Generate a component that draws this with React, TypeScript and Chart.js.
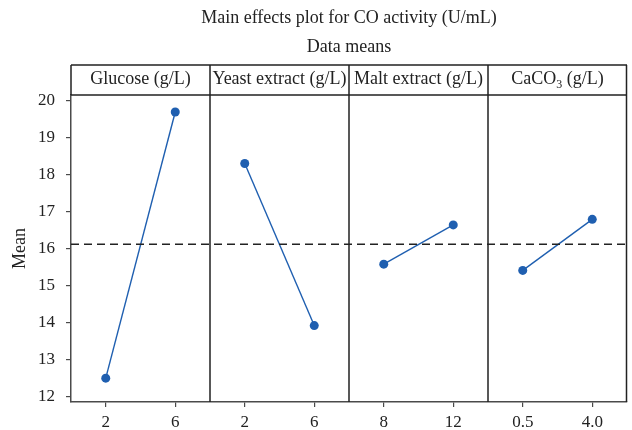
import React, { useEffect, useRef } from "react";
import { Chart, registerables } from "chart.js";

Chart.register(...registerables);

// Factors (one panel each) and their two levels
const factors = ["Glucose (g/L)", "Yeast extract (g/L)", "Malt extract (g/L)", "CaCO₃ (g/L)"];
const levelLabels = [
  ["2", "6"],
  ["2", "6"],
  ["8", "12"],
  ["0.5", "4.0"],
];
// Mean CO activity (U/mL) at the low and high level of each factor
const glucoseMeans = [12.51, 19.7];
const yeastMeans = [18.31, 13.93];
const maltMeans = [15.59, 16.65];
const caco3Means = [15.42, 16.8];
const factorMeans = [glucoseMeans, yeastMeans, maltMeans, caco3Means];
// Grand mean of all runs (dashed reference line)
const grandMean = 16.13;
const yTicks = [12, 13, 14, 15, 16, 17, 18, 19, 20];

const titleText = "Main effects plot for CO activity (U/mL)";
const subtitleText = "Data means";
const yTitle = "Mean";

const SERIF = "'Liberation Serif', 'Times New Roman', serif";
const LINE_BLUE = "#1f5fb0";
const DARK = "#222";
const AXIS = "#4a4a4a";

// Within a panel of width 1, the two levels sit at 1/4 and 3/4
const levelPos = [0.25, 0.75];
const tickPositions = factors.flatMap((_, i) => levelPos.map((p) => i + p));
const tickLabels = levelLabels.flat();

// Draws text where Unicode subscript digits are rendered smaller and lowered
function drawWithSubscripts(ctx: CanvasRenderingContext2D, text: string, cx: number, cy: number, size: number) {
  const subMap: Record<string, string> = { "₀": "0", "₁": "1", "₂": "2", "₃": "3", "₄": "4" };
  const parts: { t: string; sub: boolean }[] = [];
  for (const ch of text) {
    const sub = ch in subMap;
    const t = sub ? subMap[ch] : ch;
    const last = parts[parts.length - 1];
    if (last && last.sub === sub) last.t += t;
    else parts.push({ t, sub });
  }
  const subSize = Math.round(size * 0.68);
  const widthOf = (p: { t: string; sub: boolean }) => {
    ctx.font = `${p.sub ? subSize : size}px ${SERIF}`;
    return ctx.measureText(p.t).width;
  };
  const total = parts.reduce((s, p) => s + widthOf(p), 0);
  let x = cx - total / 2;
  ctx.textAlign = "left";
  ctx.textBaseline = "middle";
  for (const p of parts) {
    const w = widthOf(p);
    ctx.fillText(p.t, x, p.sub ? cy + size * 0.3 : cy);
    x += w;
  }
}

const panelFrame = {
  id: "panelFrame",
  beforeDatasetsDraw(chart: any) {
    const { ctx, chartArea } = chart;
    const xs = chart.scales.x;
    const headerTop = 65;
    ctx.save();
    ctx.strokeStyle = DARK;
    ctx.lineWidth = 1.5;
    // header strip
    ctx.beginPath();
    ctx.moveTo(chartArea.left, headerTop);
    ctx.lineTo(chartArea.right, headerTop);
    ctx.moveTo(chartArea.left, chartArea.top);
    ctx.lineTo(chartArea.right, chartArea.top);
    ctx.moveTo(chartArea.left, headerTop);
    ctx.lineTo(chartArea.left, chartArea.top);
    ctx.stroke();
    // panel dividers and right edge
    ctx.beginPath();
    for (let i = 1; i <= factors.length; i++) {
      const x = Math.round(xs.getPixelForValue(i)) + (i === factors.length ? -0.5 : 0);
      ctx.moveTo(x, headerTop);
      ctx.lineTo(x, chartArea.bottom);
    }
    ctx.stroke();
    ctx.restore();
  },
  afterDraw(chart: any) {
    const { ctx, chartArea } = chart;
    const xs = chart.scales.x;
    const cx = (chartArea.left + chartArea.right) / 2;
    ctx.save();
    ctx.fillStyle = DARK;
    ctx.textAlign = "center";
    ctx.textBaseline = "middle";
    ctx.font = `18px ${SERIF}`;
    ctx.fillText(titleText, cx, 18);
    ctx.fillText(subtitleText, cx, 47);
    // factor names in the header strip
    factors.forEach((name, i) => {
      const px = (xs.getPixelForValue(i) + xs.getPixelForValue(i + 1)) / 2;
      drawWithSubscripts(ctx, name, px, 79, 18);
    });
    // y-axis title
    ctx.translate(20, (chartArea.top + chartArea.bottom) / 2);
    ctx.rotate(-Math.PI / 2);
    ctx.textAlign = "center";
    ctx.textBaseline = "middle";
    ctx.font = `18px ${SERIF}`;
    ctx.fillText(yTitle, 0, 0);
    ctx.restore();
  },
};

export default function App() {
  const canvasRef = useRef<HTMLCanvasElement | null>(null);

  useEffect(() => {
    const canvas = canvasRef.current;
    if (!canvas) return;

    const lineSets = factorMeans.map((means, i) => ({
      label: factors[i],
      data: means.map((m, j) => ({ x: i + levelPos[j], y: m })),
      borderColor: LINE_BLUE,
      backgroundColor: LINE_BLUE,
      borderWidth: 1.4,
      pointRadius: 4.5,
      pointBorderWidth: 0,
      pointBackgroundColor: LINE_BLUE,
      showLine: true,
    }));

    const meanSet = {
      label: "Grand mean",
      data: [
        { x: 0, y: grandMean },
        { x: factors.length, y: grandMean },
      ],
      borderColor: DARK,
      borderWidth: 1.5,
      borderDash: [8, 5],
      pointRadius: 0,
      showLine: true,
    };

    const chart = new Chart(canvas, {
      type: "scatter",
      data: { datasets: [meanSet as any, ...lineSets] },
      options: {
        animation: false,
        responsive: false,
        devicePixelRatio: 1,
        layout: { padding: { top: 95, right: 5, left: 0, bottom: 0 } },
        plugins: {
          legend: { display: false },
          tooltip: { enabled: false },
          title: { display: false },
        },
        scales: {
          x: {
            type: "linear",
            min: 0,
            max: factors.length,
            afterBuildTicks: (scale: any) => {
              scale.ticks = tickPositions.map((v) => ({ value: v }));
            },
            afterFit: (scale: any) => {
              scale.height = 28;
            },
            ticks: {
              autoSkip: false,
              maxRotation: 0,
              padding: 5,
              color: DARK,
              font: { family: SERIF, size: 17 },
              callback: (_v: any, idx: number) => tickLabels[idx],
            },
            grid: { drawOnChartArea: false, drawTicks: true, tickLength: 5, color: AXIS, lineWidth: 1.2 },
            border: { display: true, color: AXIS, width: 1.5 },
          },
          y: {
            min: 11.865,
            max: 20.16,
            afterBuildTicks: (scale: any) => {
              scale.ticks = yTicks.map((v) => ({ value: v }));
            },
            afterFit: (scale: any) => {
              scale.width = 71;
            },
            ticks: {
              padding: 11,
              color: DARK,
              font: { family: SERIF, size: 17 },
              callback: (v: any) => String(v),
            },
            grid: { drawOnChartArea: false, drawTicks: true, tickLength: 5, color: AXIS, lineWidth: 1.2 },
            border: { display: true, color: AXIS, width: 1.5 },
          },
        },
      },
      plugins: [panelFrame],
    });

    return () => chart.destroy();
  }, []);

  return (
    <div style={{ position: "fixed", left: 0, top: 0, width: 632, height: 430, background: "#fff" }}>
      <canvas ref={canvasRef} width={632} height={430} style={{ display: "block" }} />
    </div>
  );
}
